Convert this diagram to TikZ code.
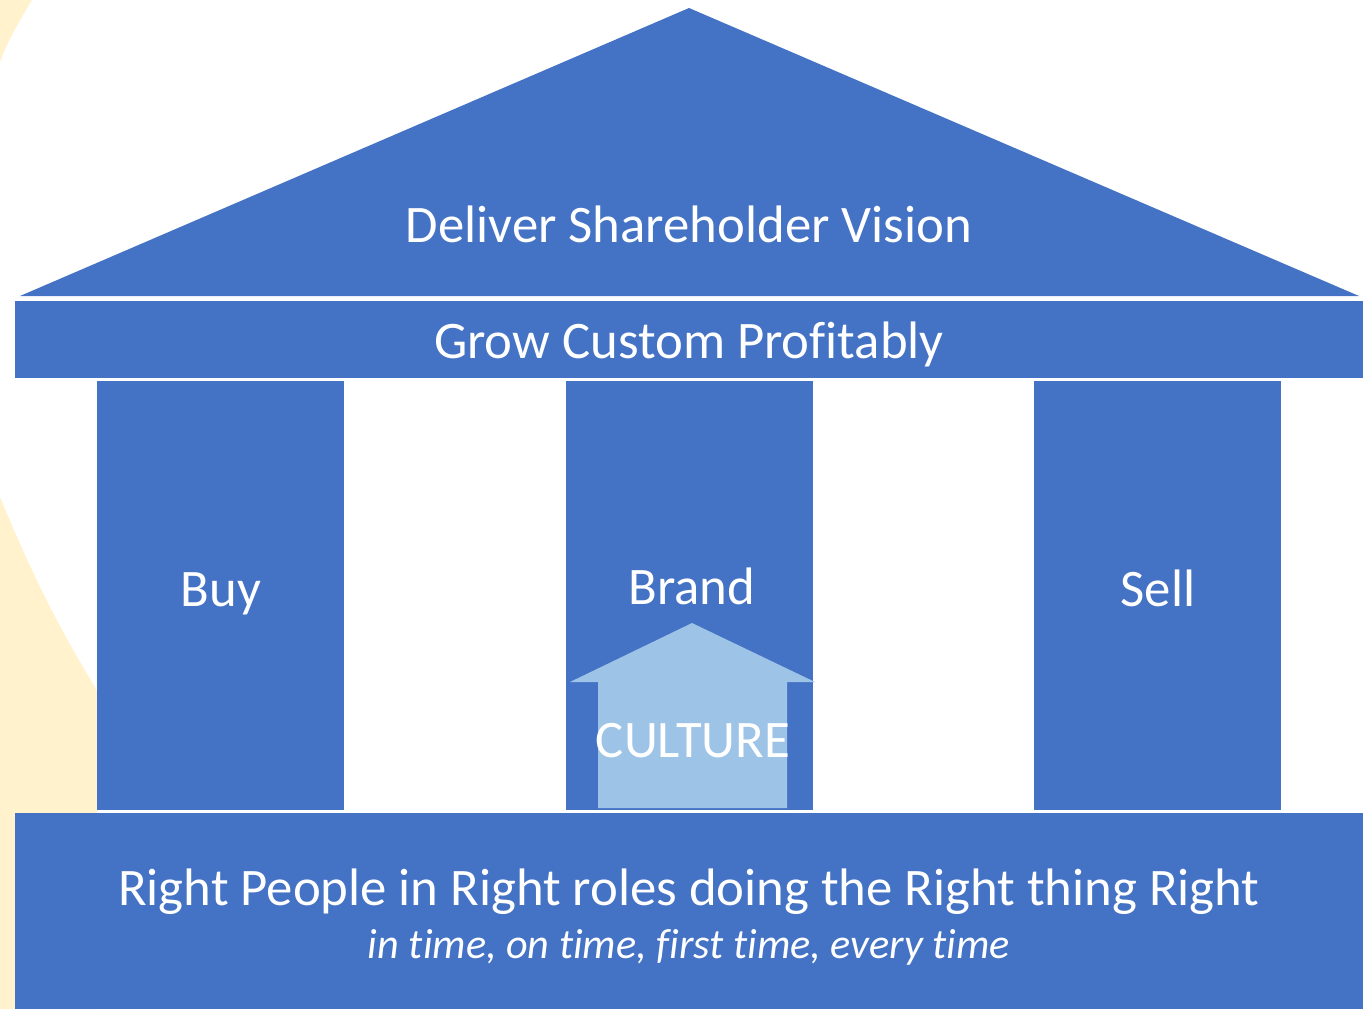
\documentclass[tikz,border=0pt]{standalone}
\usepackage{fontspec}
\setmainfont{Carlito}[Ligatures=CommonOff]
\definecolor{houseblue}{HTML}{4472C4}
\definecolor{cultureblue}{HTML}{9DC3E6}
\definecolor{backyellow}{HTML}{FFF2CC}

\begin{document}
\begin{tikzpicture}
	[x=0.01cm,y=-0.01cm,
	part/.style={fill=houseblue},
	label text/.style={text=white,inner sep=0pt,anchor=base,font=\fontsize{15}{18}\selectfont},
	small text/.style={label text,font=\fontsize{12}{14}\itshape}]
	\useasboundingbox (0,0) rectangle (1367,1009);

	\fill[backyellow] (0,0) -- (32,0) .. controls (20,20) and (8,40) .. (0,62) -- cycle;
	\fill[backyellow] (0,497) .. controls (20,545) and (50,615) .. (97,690)
		-- (97,1009) -- (0,1009) -- cycle;

	\fill[part] (20,296) -- (689,8) -- (1359,296) -- cycle;
	\fill[part] (15,301) rectangle (1363,378);
	\fill[part] (97,381) rectangle (344,810);
	\fill[part] (566,381) rectangle (813,810);
	\fill[part] (1034,381) rectangle (1281,810);
	\fill[part] (15,813) rectangle (1363,1009);
	\fill[cultureblue] (598,808) -- (598,682) -- (570,682) -- (692,623)
		-- (815,682) -- (787,682) -- (787,808) -- cycle;

	\node[label text] (vision) at (689,242) {Deliver Shareholder Vision};
	\node[label text] (grow) at (689,358) {Grow Custom Profitably};
	\node[label text] (buy) at (221,606) {Buy};
	\node[label text] (brand) at (692,604) {Brand};
	\node[label text] (sell) at (1158,606) {Sell};
	\node[label text] (culture) at (693,757) {CULTURE};
	\node[label text] (people) at (689,905) {Right People in Right roles doing the Right thing Right};
	\node[small text] (times) at (689,958) {in time, on time, first time, every time};
\end{tikzpicture}
\end{document}
